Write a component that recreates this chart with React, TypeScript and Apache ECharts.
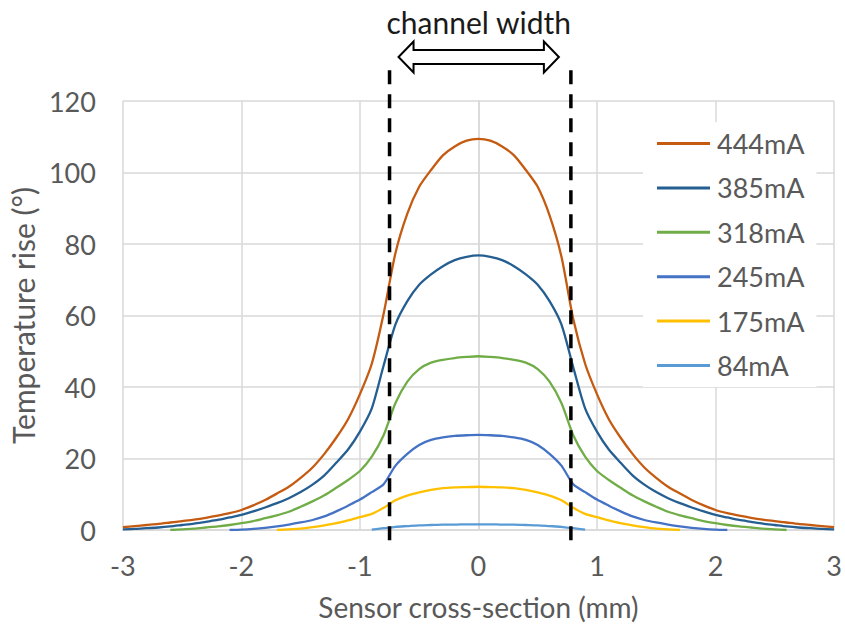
import React, { useEffect, useRef } from "react";
import * as echarts from "echarts";

const X_MM = [
  -3.0, -2.9, -2.8, -2.7, -2.6, -2.5, -2.4, -2.3, -2.2, -2.1,
  -2.0, -1.9, -1.8, -1.7, -1.6, -1.5, -1.4, -1.3, -1.2, -1.1,
  -1.0, -0.9, -0.8, -0.7, -0.6, -0.5, -0.4, -0.3, -0.2, -0.1,
  0.0,
  0.1, 0.2, 0.3, 0.4, 0.5, 0.6, 0.7, 0.8, 0.9, 1.0,
  1.1, 1.2, 1.3, 1.4, 1.5, 1.6, 1.7, 1.8, 1.9, 2.0,
  2.1, 2.2, 2.3, 2.4, 2.5, 2.6, 2.7, 2.8, 2.9, 3.0,
];

const N = null;

const T_444 = [
  0.8, 1.1, 1.4, 1.7, 2.1, 2.5, 2.9, 3.4, 4.0, 4.7,
  5.6, 6.9, 8.4, 10.2, 12.1, 14.6, 17.5, 21.3, 25.8, 31,
  38, 46.5, 60.5, 77.5, 88.5, 96, 100.7, 104.8, 107.3, 108.9,
  109.4,
  108.9, 107.3, 104.8, 100.7, 96, 88, 76.5, 59, 46.5, 38,
  31, 25.8, 21.3, 17.5, 14.6, 12.1, 10.2, 8.4, 6.9, 5.6,
  4.7, 4.0, 3.4, 2.9, 2.5, 2.1, 1.7, 1.4, 1.1, 0.8,
];

const T_385 = [
  0.2, 0.3, 0.5, 0.7, 1.0, 1.4, 1.8, 2.3, 2.8, 3.5,
  4.2, 5.2, 6.3, 7.5, 8.9, 10.6, 12.7, 15.3, 18.8, 22.5,
  27.5, 34, 46, 57.5, 64, 68.6, 71.5, 73.8, 75.5, 76.4,
  76.8,
  76.4, 75.5, 73.8, 71.5, 68.6, 64, 57.5, 45.5, 34, 27.5,
  22.5, 18.8, 15.3, 12.7, 10.6, 8.9, 7.5, 6.3, 5.2, 4.2,
  3.5, 2.8, 2.3, 1.8, 1.4, 1.0, 0.7, 0.5, 0.3, 0.2,
];

const T_318 = [
  N, N, N, N, 0, 0.2, 0.4, 0.7, 1.0, 1.4,
  1.9, 2.5, 3.3, 4.1, 5.1, 6.5, 8, 9.7, 11.8, 14,
  16.5, 20.5, 26.5, 35.5, 41.5, 45, 46.8, 47.6, 48.1, 48.4,
  48.6,
  48.4, 48.1, 47.6, 46.8, 45, 41.5, 35.5, 26.5, 20.5, 16.5,
  14, 11.8, 9.7, 8, 6.5, 5.1, 4.1, 3.3, 2.5, 1.9,
  1.4, 1.0, 0.7, 0.4, 0.2, 0, N, N, N, N,
];

const T_245 = [
  N, N, N, N, N, N, N, N, N, 0,
  0.1, 0.3, 0.6, 1.0, 1.5, 2.1, 2.8, 3.8, 5.2, 6.8,
  8.5, 10.6, 12.8, 18, 21.3, 23.8, 25.2, 25.9, 26.3, 26.5,
  26.6,
  26.5, 26.3, 25.9, 25.2, 23.8, 21.3, 18, 12.8, 10.6, 8.5,
  6.8, 5.2, 3.8, 2.8, 2.1, 1.5, 1.0, 0.6, 0.3, 0.1,
  0, N, N, N, N, N, N, N, N, N,
];

const T_175 = [
  N, N, N, N, N, N, N, N, N, N,
  N, N, N, 0, 0.2, 0.4, 0.8, 1.3, 1.9, 2.7,
  3.6, 4.5, 6.2, 8.3, 9.6, 10.5, 11.2, 11.7, 11.9, 12.0,
  12.1,
  12.0, 11.9, 11.7, 11.2, 10.5, 9.6, 8.3, 6.2, 4.5, 3.6,
  2.7, 1.9, 1.3, 0.8, 0.4, 0.2, 0, N, N, N,
  N, N, N, N, N, N, N, N, N, N,
];

const T_84 = [
  N, N, N, N, N, N, N, N, N, N,
  N, N, N, N, N, N, N, N, N, N,
  N, 0.1, 0.5, 0.9, 1.1, 1.3, 1.4, 1.5, 1.5, 1.6,
  1.6,
  1.6, 1.5, 1.5, 1.4, 1.3, 1.1, 0.9, 0.5, 0.1, N,
  N, N, N, N, N, N, N, N, N, N,
  N, N, N, N, N, N, N, N, N, N,
];

const SERIES_NAMES = ["444mA", "385mA", "318mA", "245mA", "175mA", "84mA"];
const SERIES_VALUES = [T_444, T_385, T_318, T_245, T_175, T_84];
const SERIES_COLORS = ["#C55A11", "#255E91", "#70AD47", "#4472C4", "#FFC000", "#5B9BD5"];

const CHANNEL_EDGES = [-0.75, 0.78];
const CHANNEL_LABEL = "channel width";

const FONT = "Lato, 'Open Sans', sans-serif";
const GREY_TEXT = "#595959";
const GRID_LINE = "#D9D9D9";

export default function App() {
  const ref = useRef<HTMLDivElement>(null);

  useEffect(() => {
    if (!ref.current) return;
    const chart = echarts.init(ref.current, null, { renderer: "svg" });

    const series = SERIES_NAMES.map((name, i) => ({
      name,
      type: "line",
      data: X_MM.map((x, j) => [x, SERIES_VALUES[i][j]]),
      showSymbol: false,
      symbol: "none",
      smooth: 0.25,
      connectNulls: false,
      lineStyle: { color: SERIES_COLORS[i], width: 2.3 },
      itemStyle: { color: SERIES_COLORS[i] },
      z: 3 + (SERIES_NAMES.length - i),
    }));

    chart.setOption({
      animation: false,
      textStyle: { fontFamily: FONT },
      grid: { left: 118, right: 11, top: 101, bottom: 99, containLabel: false },
      xAxis: {
        type: "value",
        min: -3,
        max: 3,
        interval: 1,
        name: "Sensor cross-section (mm)",
        nameLocation: "middle",
        nameGap: 63,
        nameTextStyle: { fontSize: 28, color: GREY_TEXT, fontFamily: FONT },
        axisLine: { show: true, onZero: false, lineStyle: { color: GRID_LINE, width: 1.5 } },
        axisTick: { show: false },
        axisLabel: { fontSize: 27, color: GREY_TEXT, margin: 22, fontFamily: FONT },
        splitLine: { show: true, lineStyle: { color: GRID_LINE, width: 1.5 } },
      },
      yAxis: {
        type: "value",
        min: 0,
        max: 120,
        interval: 20,
        name: "Temperature rise (°)",
        nameLocation: "middle",
        nameGap: 64,
        nameTextStyle: { fontSize: 30, color: GREY_TEXT, fontFamily: FONT },
        axisLine: { show: true, lineStyle: { color: GRID_LINE, width: 1.5 } },
        axisTick: { show: false },
        axisLabel: { fontSize: 27, color: GREY_TEXT, margin: 27, fontFamily: FONT },
        splitLine: { show: true, lineStyle: { color: GRID_LINE, width: 1.5 } },
      },
      legend: {
        orient: "vertical",
        left: 643,
        top: 122,
        width: 177,
        padding: [8, 12, 8, 14],
        backgroundColor: "#ffffff",
        icon: "rect",
        itemWidth: 53,
        itemHeight: 3,
        itemGap: 17.4,
        textStyle: { fontSize: 27, lineHeight: 27, color: GREY_TEXT, fontFamily: FONT, padding: [0, 0, 0, 2] },
        data: SERIES_NAMES,
      },
      series,
    });

    const px = (x: number, y: number) => chart.convertToPixel({ gridIndex: 0 }, [x, y]) as number[];
    const [xL] = px(CHANNEL_EDGES[0], 0);
    const [xR] = px(CHANNEL_EDGES[1], 0);
    const yTop = px(0, 128.6)[1];
    const yBot = px(0, -4.2)[1];

    const tipL = xL + 9;
    const tipR = xR - 12;
    const ay = 57;
    const hl = 15;
    const hh = 15.5;
    const sh = 7;

    chart.setOption({
      graphic: [
        {
          type: "line",
          z: 100,
          shape: { x1: xL, y1: yTop, x2: xL, y2: yBot },
          style: { stroke: "#000", lineWidth: 3.5, lineDash: [14, 10] },
        },
        {
          type: "line",
          z: 100,
          shape: { x1: xR, y1: yTop, x2: xR, y2: yBot },
          style: { stroke: "#000", lineWidth: 3.5, lineDash: [14, 10] },
        },
        {
          type: "polygon",
          z: 100,
          shape: {
            points: [
              [tipL, ay],
              [tipL + hl, ay - hh],
              [tipL + hl, ay - sh],
              [tipR - hl, ay - sh],
              [tipR - hl, ay - hh],
              [tipR, ay],
              [tipR - hl, ay + hh],
              [tipR - hl, ay + sh],
              [tipL + hl, ay + sh],
              [tipL + hl, ay + hh],
            ],
          },
          style: { fill: "#fff", stroke: "#000", lineWidth: 2 },
        },
        {
          type: "text",
          z: 100,
          x: (tipL + tipR) / 2,
          y: 22,
          style: {
            text: CHANNEL_LABEL,
            fontSize: 30,
            fontFamily: FONT,
            fill: "#1a1a1a",
            align: "center",
            verticalAlign: "middle",
          },
        },
      ],
    });

    return () => chart.dispose();
  }, []);

  return (
    <div
      ref={ref}
      style={{ position: "absolute", left: 0, top: 0, width: 845, height: 629, background: "#fff" }}
    />
  );
}
